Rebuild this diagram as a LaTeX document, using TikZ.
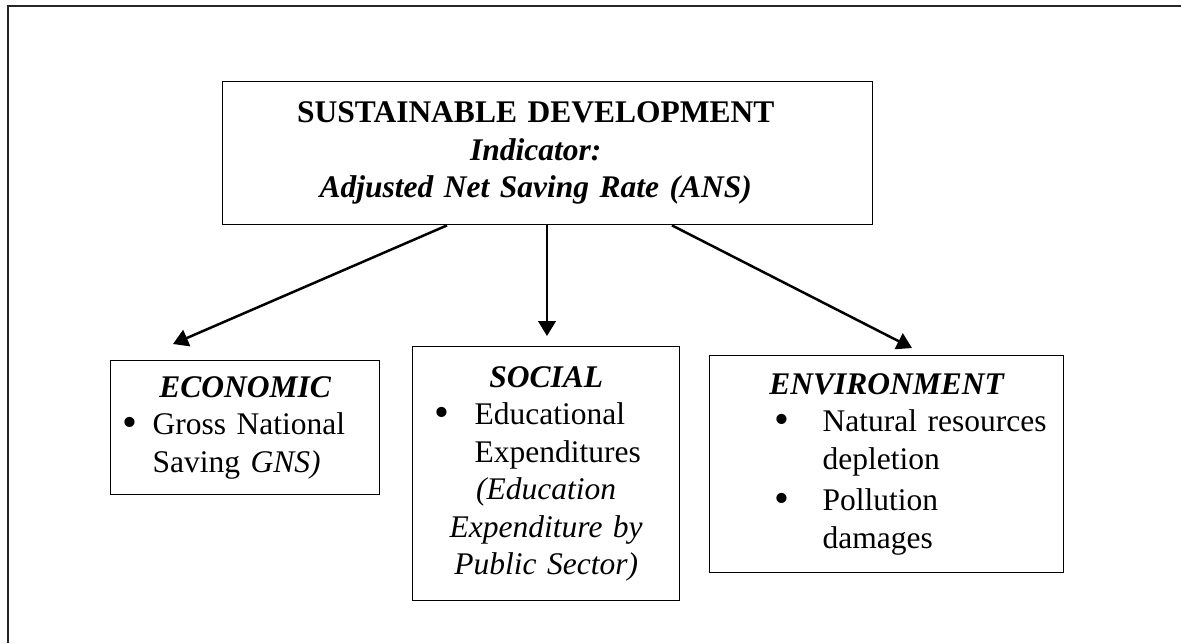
\documentclass[tikz,border=0pt]{standalone}
\usepackage{fontspec}
\setmainfont{Liberation Serif}
\usetikzlibrary{arrows.meta,calc}
% bullet line: #1 = bullet indent, #2 = gap to text
\newcommand{\bulitem}[2]{\par\noindent\hangindent=\dimexpr#1+#2\relax\hangafter=1\hspace*{#1}\makebox[#2][l]{\raisebox{-0.07em}{\scalebox{1.35}{\textbullet}}}}

\begin{document}
\begin{tikzpicture}[x=0.4pt, y=-0.4pt, font=\fontsize{12.6}{15}\selectfont,
  box/.style={draw, line width=0.55pt, anchor=north west, inner xsep=0pt, inner ysep=2pt},
  subbox/.style={box, execute at begin node=\raggedright},
  arr/.style={line width=1pt, -{Triangle[length=6pt, width=7pt]}}]
  \useasboundingbox (0,0) rectangle (1181,643);
  % page frame
  \draw[line width=0.9pt, black!85] (1181,6) -| (8,643);
  % nodes
  \node[box, text width=260pt, minimum height=57.2pt] (sd) at (222,81)
    {\centering\rightskip=9.6pt plus 1fil
     \bfseries SUSTAINABLE DEVELOPMENT\\ \itshape Indicator:\\ Adjusted Net Saving Rate (ANS)\par};
  \node[subbox, text width=107.6pt, minimum height=53.6pt] (eco) at (110,360)
    {{\centering\bfseries\itshape ECONOMIC\par}
     \bulitem{4.8pt}{12pt}Gross National\newline Saving \textit{GNS)}\par};
  \node[subbox, text width=106.8pt, minimum height=101.6pt] (soc) at (412,346)
    {{\centering\bfseries\itshape SOCIAL\par}
     \bulitem{8.8pt}{16pt}Educational\newline Expenditures\par
     {\centering\itshape (Education\\Expenditure by\\Public Sector)\par}};
  \node[subbox, text width=141.6pt, minimum height=86.8pt] (env) at (709,355)
    {{\centering\bfseries\itshape ENVIRONMENT\par}
     \bulitem{26pt}{19.2pt}Natural resources\newline depletion\par
     \vspace{1.6pt}
     \bulitem{26pt}{19.2pt}Pollution\newline damages\par};
  % arrows
  \draw[arr] ($(sd.south west)+(225,0)$) -- ($(eco.north west)+(63,-16)$);
  \draw[arr] ($(sd.south west)+(325,0)$) -- ($(soc.north west)+(135,-10)$);
  \draw[arr] ($(sd.south west)+(450,0)$) -- ($(env.north west)+(203,-7)$);
\end{tikzpicture}
\end{document}
